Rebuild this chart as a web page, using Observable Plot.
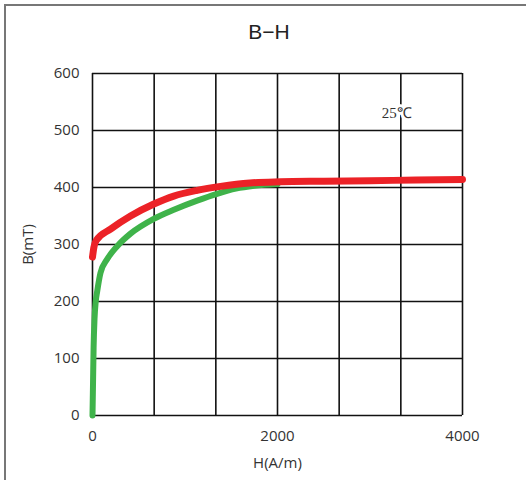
<!DOCTYPE html>
<html>
<head>
<meta charset="utf-8">
<script src="https://cdn.jsdelivr.net/npm/d3@7"></script>
<script src="https://cdn.jsdelivr.net/npm/@observablehq/plot@0.6"></script>
<style>
  html, body { margin: 0; padding: 0; background: #fff; }
  #wrap { position: relative; width: 526px; height: 480px; overflow: hidden; background: #fff; }
  #edgeTop { position: absolute; left: 4px; top: 4px; width: 522px; height: 0; border-top: 2px solid #777; }
  #edgeLeft { position: absolute; left: 4px; top: 4px; width: 0; height: 476px; border-left: 2px solid #777; }
  #title { position: absolute; left: 0; top: 0; width: 526px; height: 50px; text-align: center;
           font-family: "Liberation Sans", Arial, sans-serif; font-size: 21px; color: #222;
           line-height: 64px; padding-left: 12px; box-sizing: border-box; }
  #chart { position: absolute; left: 0; top: 50px; }
</style>
</head>
<body>
<div id="wrap">
  <div id="title">B−H</div>
  <div id="chart"></div>
  <div id="edgeTop"></div>
  <div id="edgeLeft"></div>
</div>
<script>
// Red curve (upper)
const redH = [0, 15, 40, 195, 411, 663, 879, 1131, 1384, 1700, 2032, 2500, 3000, 3500, 4000];
const redB = [278, 295, 307, 327, 350, 371, 385, 395, 402, 408, 410, 411, 412, 413, 414];
// Green curve (lower)
const greenH = [0, 6, 12, 22, 35, 51, 86, 158, 267, 411, 663, 879, 1131, 1347, 1550, 1750, 2000];
const greenB = [0, 60, 120, 170, 200, 218, 250, 274, 297, 319, 345, 361, 377, 389, 398, 403, 406];
// Grid / ticks
const gridH = [0, 666.67, 1333.33, 2000, 2666.67, 3333.33, 4000];
const gridB = [0, 100, 200, 300, 400, 500, 600];
const xTicks = [0, 2000, 4000];
const yTicks = [0, 100, 200, 300, 400, 500, 600];
const tempLabel = [{H: 3290, B: 530, text: "25℃"}];

const red = redH.map((h, i) => ({H: h, B: redB[i]}));
const green = greenH.map((h, i) => ({H: h, B: greenB[i]}));

const chart = Plot.plot({
  width: 526,
  height: 430,
  marginLeft: 92,
  marginRight: 64,
  marginTop: 23,
  marginBottom: 65,
  style: {fontFamily: "'Open Sans', sans-serif", fontSize: "15px", color: "#333", background: "white"},
  x: {domain: [0, 4000]},
  y: {domain: [0, 600]},
  marks: [
    Plot.ruleX(gridH, {stroke: "#111", strokeWidth: 1.6, strokeOpacity: 1}),
    Plot.ruleY(gridB, {stroke: "#111", strokeWidth: 1.6, strokeOpacity: 1}),
    Plot.text(tempLabel, {x: "H", y: "B", text: "text", fontFamily: "'Liberation Serif', serif",
      fontSize: 15, fill: "#333", stroke: "white", strokeWidth: 6, paintOrder: "stroke"}),
    Plot.line(green, {x: "H", y: "B", stroke: "#3fb34a", strokeWidth: 6, curve: "monotone-x"}),
    Plot.line(red, {x: "H", y: "B", stroke: "#ec2227", strokeWidth: 7, curve: "monotone-x"}),
    Plot.axisX(xTicks, {tickSize: 0, tickPadding: 15, tickFormat: d => String(d), label: "H(A/m)",
      labelAnchor: "center", labelArrow: "none", labelOffset: 52, fontSize: 15}),
    Plot.axisY(yTicks, {tickSize: 0, tickPadding: 13, tickFormat: d => String(d), label: "B(mT)",
      labelAnchor: "center", labelArrow: "none", labelOffset: 70, fontSize: 15})
  ]
});
document.getElementById("chart").appendChild(chart);
</script>
</body>
</html>
